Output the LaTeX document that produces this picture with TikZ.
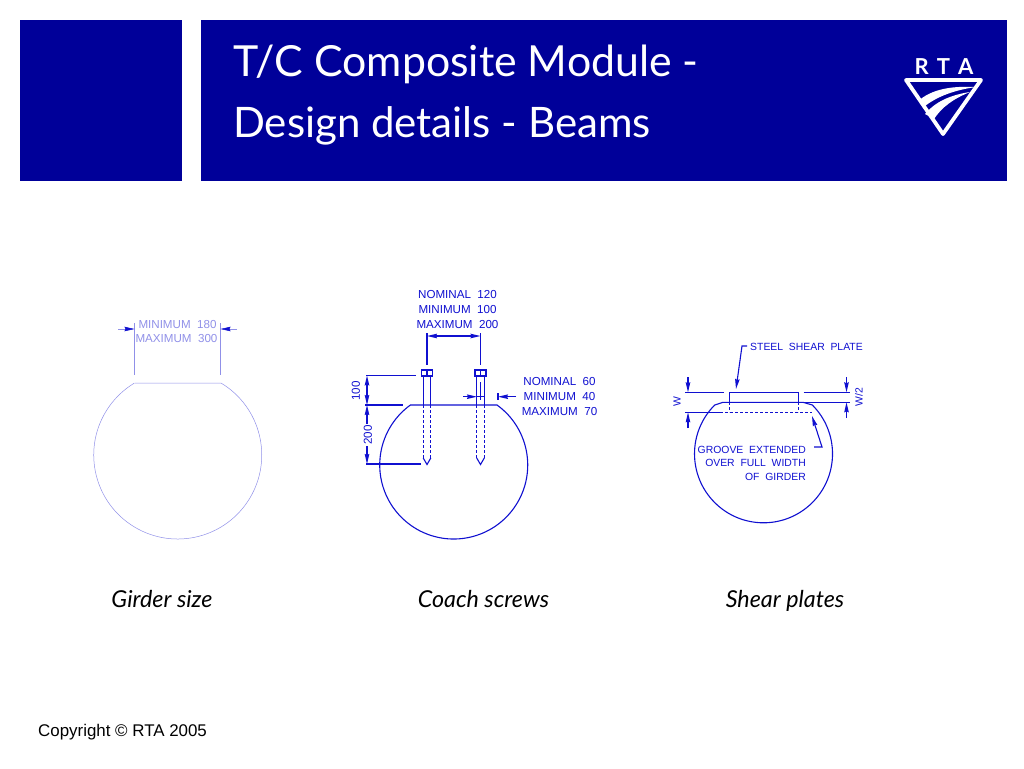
\documentclass[tikz,border=0pt]{standalone}
\usepackage{fontspec}
\setmainfont{Lato}
\newfontfamily\cadfont{Liberation Sans}
\usetikzlibrary{arrows.meta}
\definecolor{rtablue}{HTML}{000099}
\definecolor{cadblue}{HTML}{1010D0}
\definecolor{palecad}{HTML}{9090E8}
\tikzset{
	cadline/.style={draw=cadblue,line width=1.1pt},
	paleline/.style={draw=palecad,line width=.5pt},
	hidden/.style={cadline,dash pattern=on 3pt off 2pt},
	dimtip/.style={-{Stealth[length=10pt,width=4.5pt,inset=1pt,color=cadblue]}},
	cadtext/.style={text=cadblue,font=\cadfont\fontsize{11.6}{13}\selectfont,inner sep=0pt},
	platetext/.style={cadtext,font=\cadfont\fontsize{10.4}{13}\selectfont},
	paletext/.style={cadtext,text=palecad},
	caption/.style={anchor=base,font=\itshape\fontsize{23.3}{26}\selectfont,inner sep=0pt},
	headline/.style={text=white,anchor=base west,inner sep=0pt}
}
\begin{document}
\begin{tikzpicture}[x=1pt,y=1pt,yscale=-1]
	\useasboundingbox (0,0) rectangle (1024,768);
	% header
	\fill[rtablue] (20,20) rectangle (182,181);
	\fill[rtablue] (201,20) rectangle (1007,181);
	\node[headline,font=\fontsize{42.8}{48}\selectfont] (title1) at (233,77) {T/C Composite Module -};
	\node[headline,font=\fontsize{42}{48}\selectfont] (title2) at (233,137) {Design details - Beams};
	% logo
	\node[text=white,inner sep=0pt,font=\bfseries\fontsize{22}{22}\selectfont] (logotext) at (944,67) {R\hspace{8pt}T\hspace{8pt}A};
	\draw[white,line width=3.8pt,line join=round] (906,80) -- (981,80) -- (943,134) -- cycle;
	\fill[white] (920.7,99) .. controls (935,88) and (955,86) .. (976,87) .. controls (955,90) and (938,96) .. (925,106) -- cycle;
	\fill[white] (925,114) .. controls (935,102) and (950,95) .. (970,92) .. controls (953,99) and (942,107) .. (934,119) -- cycle;
	% girder size
	\draw[paleline] (135,383) -- (221,383) arc[start angle=-59,end angle=239,radius=84];
	\draw[paleline] (134.5,323) -- (134.5,375);
	\draw[paleline] (220.5,323) -- (220.5,375);
	\draw[paleline,dimtip] (118,329) -- (134.5,329);
	\draw[paleline,dimtip] (237,329) -- (220.5,329);
	\node[paletext] (girdermin) at (177.5,325) {MINIMUM\ \ 180};
	\node[paletext] (girdermax) at (176.5,339) {MAXIMUM\ \ 300};
	\node[caption] (girdercap) at (162,607) {Girder size};
	% coach screws
	\draw[cadline] (410,405) -- (497,405) arc[start angle=-54.2,end angle=234.2,radius=74];
	\foreach \sx in {427,480.5}{
		\draw[cadline] (\sx-5.5,370) rectangle (\sx+5.5,376);
		\draw[cadline] (\sx,370) -- (\sx,376);
		\draw[cadline] (\sx-3.8,376) -- (\sx-3.8,405);
		\draw[cadline] (\sx+3.8,376) -- (\sx+3.8,405);
		\draw[hidden] (\sx-3.8,405) -- (\sx-3.8,458);
		\draw[hidden] (\sx+3.8,405) -- (\sx+3.8,458);
		\draw[cadline] (\sx-3.8,458) -- (\sx,464.5) -- (\sx+3.8,458);
		\draw[cadline] (\sx,333) -- (\sx,365);
	}
	\draw[cadline,dimtip] (453,336) -- (427,336);
	\draw[cadline,dimtip] (453,336) -- (480.5,336);
	\node[cadtext] (spacenom) at (457.5,295) {NOMINAL\ \ 120};
	\node[cadtext] (spacemin) at (457.5,310) {MINIMUM\ \ 100};
	\node[cadtext] (spacemax) at (457.5,324.5) {MAXIMUM\ \ 200};
	\draw[cadline] (366,375.5) -- (416,375.5);
	\draw[cadline] (365,405) -- (403,405);
	\draw[cadline] (366,464) -- (421,464);
	\draw[cadline,dimtip] (367,390) -- (367,375.5);
	\draw[cadline,dimtip] (367,390) -- (367,405);
	\draw[cadline,dimtip] (367,424) -- (367,405);
	\draw[cadline,dimtip] (367,446) -- (367,464);
	\node[cadtext,rotate=90] (depthtop) at (356,391) {100};
	\node[cadtext,rotate=90] (depthlow) at (368,435) {200};
	\draw[cadline] (480.5,382) -- (480.5,400);
	\draw[cadline] (477,396.7) -- (485,396.7);
	\draw[cadline,dimtip] (463,396.7) -- (477,396.7);
	\draw[cadline,dimtip] (516,396.7) -- (498,396.7);
	\draw[cadline] (498,393) -- (498,400);
	\node[cadtext] (dianom) at (559.5,382) {NOMINAL\ \ 60};
	\node[cadtext] (diamin) at (559.5,397) {MINIMUM\ \ 40};
	\node[cadtext] (diamax) at (559.5,412) {MAXIMUM\ \ 70};
	\node[caption] (coachcap) at (483.5,607) {Coach screws};
	% shear plates
	\draw[cadline] (723,402.3) -- (803,402.3) -- (812.3,405) arc[start angle=-45,end angle=225,radius=69] -- cycle;
	\draw[cadline] (729.3,402.3) -- (729.3,392.3) -- (798.3,392.3) -- (798.3,402.3);
	\draw[hidden] (729.3,402.3) -- (729.3,412.3);
	\draw[hidden] (798.3,402.3) -- (798.3,412.3);
	\draw[hidden] (725,412.3) -- (811.5,412.3);
	\draw[cadline] (685,392.3) -- (724,392.3);
	\draw[cadline] (685,412.3) -- (723,412.3);
	\draw[cadline] (803.5,392.3) -- (850,392.3);
	\draw[cadline] (803.5,402.3) -- (850,402.3);
	\draw[cadline,dimtip] (688,377) -- (688,392.3);
	\draw[cadline,dimtip] (688,428) -- (688,412.3);
	\draw[cadline,dimtip] (846.5,377) -- (846.5,392.3);
	\draw[cadline,dimtip] (846.5,418) -- (846.5,402.3);
	\node[platetext,rotate=90] (plateW) at (677,402) {W};
	\node[platetext,rotate=90] (plateWhalf) at (859,397) {W/2};
	\node[platetext,anchor=west] (steellabel) at (750,346.5) {STEEL\ \ SHEAR\ \ PLATE};
	\draw[cadline,dimtip] (747,346) -- (742,346) -- (736,389);
	\node[platetext,anchor=east] (groove1) at (806,449.5) {GROOVE\ \ EXTENDED};
	\node[platetext,anchor=east] (groove2) at (806,462.5) {OVER\ \ FULL\ \ WIDTH};
	\node[platetext,anchor=east] (groove3) at (806,476.5) {OF\ \ GIRDER};
	\draw[cadline,dimtip] (814,447) -- (822,447) -- (812,416);
	\node[caption] (shearcap) at (785,607) {Shear plates};
	% footer
	\node[inner sep=0pt,anchor=west,font=\cadfont\fontsize{16.9}{18}\selectfont] (copyright) at (38,732) {Copyright © RTA 2005};
\end{tikzpicture}
\end{document}
